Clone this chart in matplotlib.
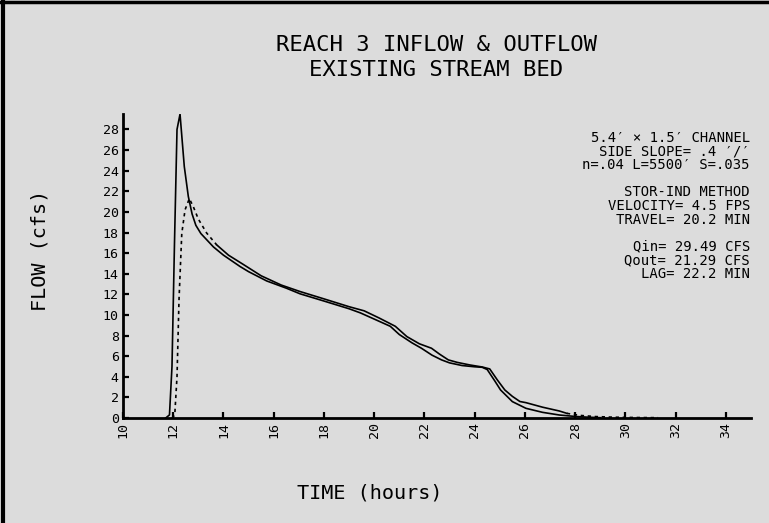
import matplotlib
matplotlib.use("Agg")
import matplotlib.pyplot as plt
from matplotlib.lines import Line2D

# inflow hydrograph (solid) - hours, cfs
t_in = [11.7, 11.85, 11.95, 12.05, 12.15, 12.27, 12.44, 12.6, 12.75, 12.9,
        13.1, 13.6, 14.0, 14.66, 15.0, 15.72, 16.5, 17.05, 18.0, 19.0,
        19.45, 20.0, 20.64, 21.0, 21.5, 21.88, 22.3, 22.68, 23.0, 23.5,
        24.0, 24.3, 24.5, 24.8, 25.03, 25.5, 26.04, 26.7, 27.37, 28.0,
        28.5, 29.0]
q_in = [0.0, 0.3, 5.0, 17.0, 28.0, 29.49, 24.4, 21.5, 19.8, 18.7,
        17.9, 16.6, 15.8, 14.7, 14.2, 13.3, 12.6, 12.05, 11.35, 10.6,
        10.2, 9.6, 8.9, 8.1, 7.3, 6.77, 6.1, 5.64, 5.35, 5.09,
        4.97, 4.92, 4.7, 3.6, 2.72, 1.59, 0.94, 0.55, 0.29, 0.15,
        0.08, 0.03]

# outflow hydrograph (dashed)
t_out = [11.95, 12.06, 12.15, 12.23, 12.34, 12.47, 12.64, 12.8, 13.0, 13.33,
         13.73, 14.2, 14.79, 15.5, 16.3, 17.05, 18.0, 19.0, 19.6, 20.2,
         20.84, 21.3, 21.8, 22.28, 22.6, 22.95, 23.3, 23.8, 24.3, 24.6,
         24.9, 25.2, 25.5, 25.8, 26.04, 26.7, 27.37, 27.67, 28.2, 28.8,
         29.5, 30.3, 31.3]
q_out = [0.0, 0.3, 4.0, 11.5, 17.9, 20.2, 21.29, 20.5, 19.3, 17.95,
         16.8, 15.8, 14.9, 13.8, 12.9, 12.27, 11.56, 10.8, 10.4, 9.7,
         8.9, 7.9, 7.2, 6.77, 6.2, 5.64, 5.4, 5.15, 4.95, 4.76,
         3.7, 2.72, 2.1, 1.6, 1.49, 1.05, 0.68, 0.45, 0.25, 0.14,
         0.08, 0.05, 0.03]

x_ticks = list(range(10, 35, 2))
y_ticks = list(range(0, 29, 2))

title_lines = ["REACH 3 INFLOW & OUTFLOW", "EXISTING STREAM BED"]
note_lines = ["5.4\u2032 \u00d7 1.5\u2032 CHANNEL", "SIDE SLOPE= .4 \u2032/\u2032",
              "n=.04 L=5500\u2032 S=.035", "",
              "STOR-IND METHOD", "VELOCITY= 4.5 FPS", "TRAVEL= 20.2 MIN", "",
              "Qin= 29.49 CFS", "Qout= 21.29 CFS", "LAG= 22.2 MIN"]

W, H = 769, 523
bg = "#dcdcdc"
plt.rcParams["font.family"] = "DejaVu Sans Mono"

fig = plt.figure(figsize=(W / 100, H / 100), dpi=100, facecolor=bg)
ax = fig.add_axes([123 / W, 105 / H, 628 / W, 304 / H])
ax.set_facecolor(bg)

ax.plot(t_in, q_in, color="black", lw=1.2)
# the old plotter's dash pattern only shows on the steep parts of the outflow
ax.plot(t_out[:11], q_out[:11], color="black", lw=1.2, linestyle=(0, (2.0, 2.2)))
ax.plot(t_out[10:38], q_out[10:38], color="black", lw=1.2)
ax.plot(t_out[37:], q_out[37:], color="black", lw=1.2, linestyle=(0, (2.0, 2.2)))

ax.set_xlim(10, 35)
ax.set_ylim(0, 29.5)
ax.set_xticks(x_ticks)
ax.set_yticks(y_ticks)
ax.tick_params(direction="in", length=4, width=1.6, labelsize=9.5, pad=3)
for lab in ax.get_xticklabels():
    lab.set_rotation(90)
for s in ["top", "right"]:
    ax.spines[s].set_visible(False)
for s in ["left", "bottom"]:
    ax.spines[s].set_linewidth(2)


def fy(py):
    return 1 - py / H


fig.text(436 / W, fy(45), title_lines[0], ha="center", va="center", fontsize=16)
fig.text(436 / W, fy(70), title_lines[1], ha="center", va="center", fontsize=16)
fig.text(370 / W, fy(493), "TIME (hours)", ha="center", va="center", fontsize=14.5)
fig.text(40 / W, fy(250), "FLOW (cfs)", ha="center", va="center", fontsize=14.5,
         rotation=90)

y0 = 138
for i, line in enumerate(note_lines):
    if line:
        fig.text(750 / W, fy(y0 + i * 13.6), line, ha="right", va="center",
                 fontsize=10)

# frame of the plot window (top and left edges)
fig.add_artist(Line2D([0, 1], [fy(1.5), fy(1.5)], transform=fig.transFigure,
                      color="black", lw=2.5))
fig.add_artist(Line2D([2.5 / W, 2.5 / W], [0, 1], transform=fig.transFigure,
                      color="black", lw=3))

fig.savefig("out.png", dpi=100, facecolor=bg)
